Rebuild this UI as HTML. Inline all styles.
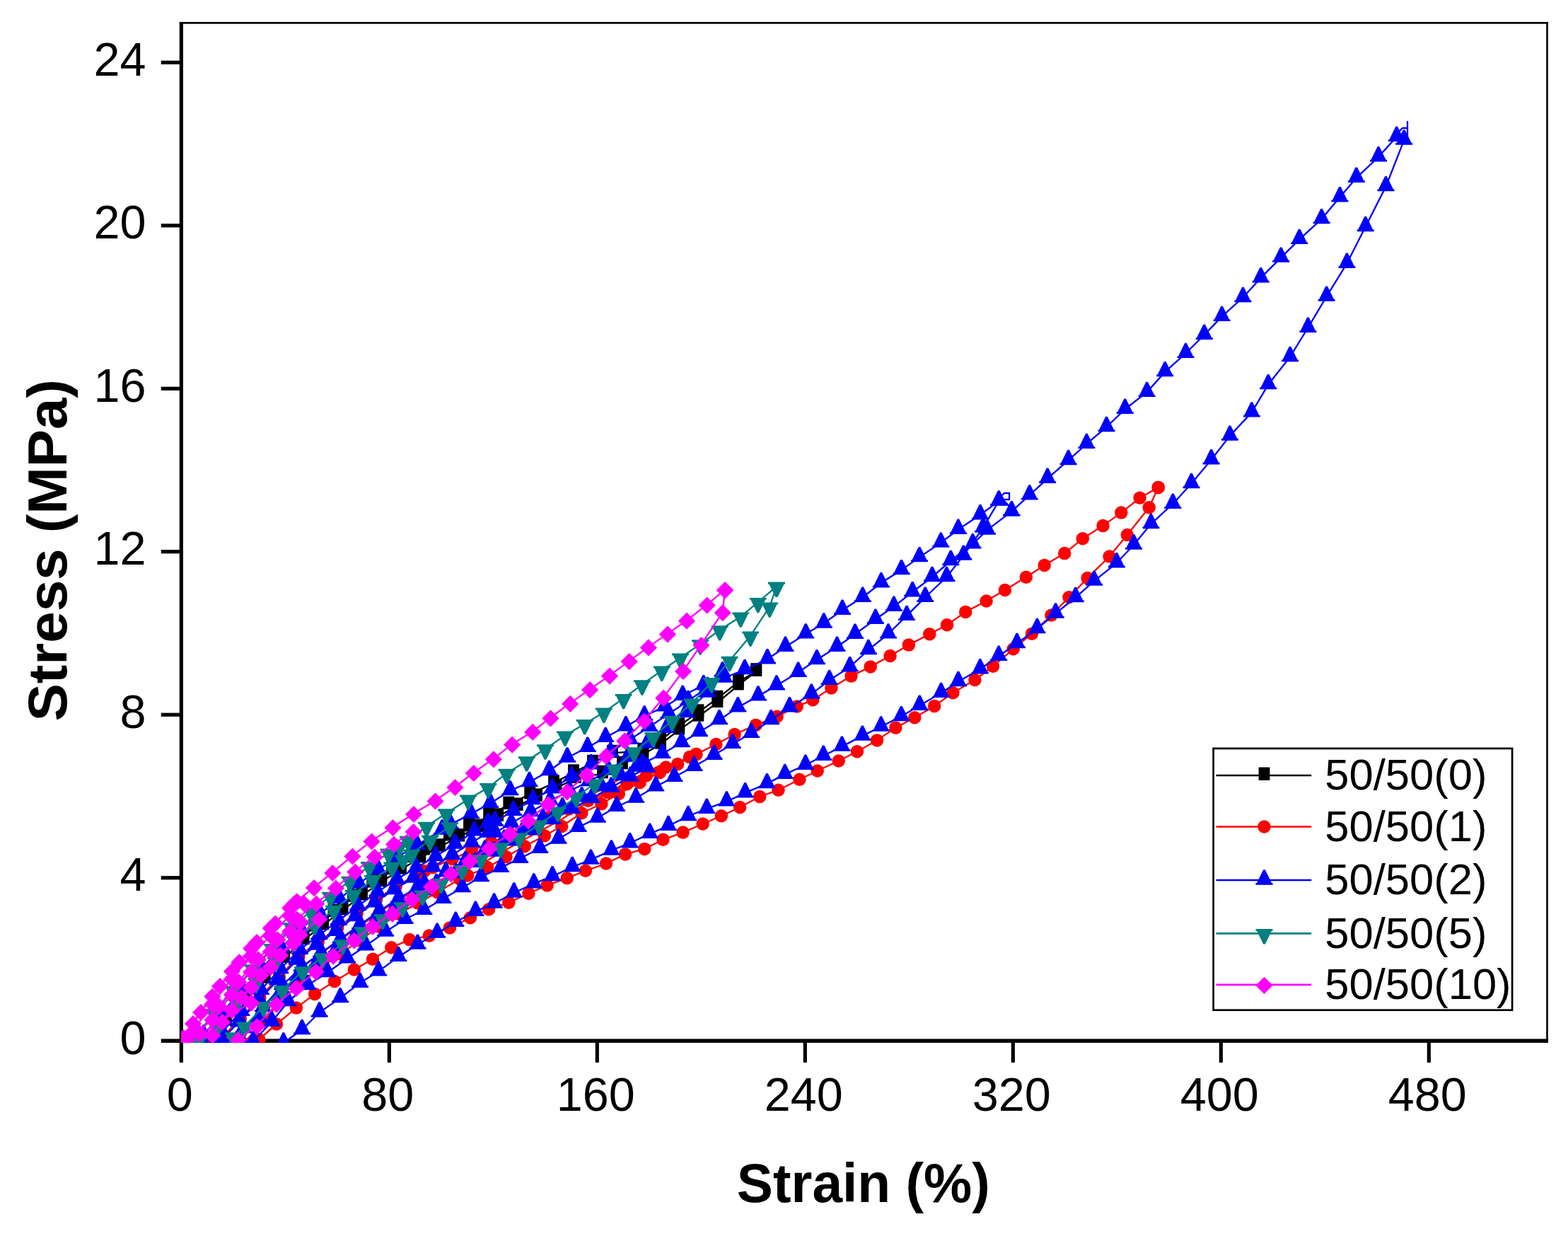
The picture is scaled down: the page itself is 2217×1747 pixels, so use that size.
<!DOCTYPE html>
<html lang="en"><head><meta charset="utf-8"><title>Stress-Strain cyclic curves</title>
<style>html,body{margin:0;padding:0;background:#fff}body{width:2217px;height:1747px;overflow:hidden}svg{display:block}text{font-family:"Liberation Sans",Arial,Helvetica,sans-serif;fill:#000}.tk{font-size:66.5px}.lg{font-size:61.5px}.ti{font-size:78.5px;font-weight:bold}</style></head><body>
<svg width="2217" height="1747" viewBox="0 0 2217 1747">
<rect width="2217" height="1747" fill="#fff"/>
<defs>
<clipPath id="cp"><rect x="256.2" y="33.7" width="1930" height="1440.3"/></clipPath>
<marker id="mk" markerUnits="userSpaceOnUse" markerWidth="30" markerHeight="30" refX="15" refY="17.3" overflow="visible"><rect x="7.1" y="5.8" width="15.8" height="18.4" fill="#000"/></marker>
<marker id="mr" markerUnits="userSpaceOnUse" markerWidth="30" markerHeight="30" refX="15" refY="15" overflow="visible"><circle cx="15" cy="15" r="9.25" fill="#f00"/></marker>
<marker id="mb" markerUnits="userSpaceOnUse" markerWidth="30" markerHeight="30" refX="15" refY="19" overflow="visible"><path d="M13.7 4.3h2.6L25.5 23H27v2.7H3V23h1.5Z" fill="#00f"/></marker>
<marker id="mt" markerUnits="userSpaceOnUse" markerWidth="30" markerHeight="30" refX="15" refY="10.5" overflow="visible"><path d="M13.7 25.7h2.6L25.5 7H27V4.3H3V7h1.5Z" fill="#008080"/></marker>
<marker id="mm" markerUnits="userSpaceOnUse" markerWidth="30" markerHeight="30" refX="15" refY="14" overflow="visible"><path d="M15 2.9L27.1 15L15 27.1L2.9 15Z" fill="#f0f"/></marker>
</defs>
<g fill="#000">
<rect x="253.75" y="31.05" width="5.15" height="1470.8"/>
<rect x="227.75" y="1468.4" width="1961.05" height="5.5"/>
<rect x="253.75" y="31.05" width="1935.05" height="2.65"/>
<rect x="2186.2" y="31.05" width="2.6" height="1442.8"/>
<rect x="227.75" y="1238.12" width="27" height="5.2"/>
<rect x="227.75" y="1007.64" width="27" height="5.2"/>
<rect x="227.75" y="777.16" width="27" height="5.2"/>
<rect x="227.75" y="546.68" width="27" height="5.2"/>
<rect x="227.75" y="316.20" width="27" height="5.2"/>
<rect x="227.75" y="85.72" width="27" height="5.2"/>
<rect x="547.75" y="1470" width="5.15" height="31.85"/>
<rect x="841.75" y="1470" width="5.15" height="31.85"/>
<rect x="1135.75" y="1470" width="5.15" height="31.85"/>
<rect x="1429.75" y="1470" width="5.15" height="31.85"/>
<rect x="1723.75" y="1470" width="5.15" height="31.85"/>
<rect x="2017.75" y="1470" width="5.15" height="31.85"/>
</g>
<g clip-path="url(#cp)" fill="none" stroke-width="2.35" stroke-linejoin="round">
<g transform="translate(0 2.3)" stroke="#000" marker-start="url(#mk)" marker-mid="url(#mk)" marker-end="url(#mk)">
<polyline points="256.3,1477.2 279.3,1477.2 306.8,1448.0 334.2,1417.5 361.6,1387.1 389.1,1358.4 416.5,1329.1 444.0,1307.5 471.4,1287.0 498.9,1265.6 526.3,1245.3 553.8,1227.0 581.2,1209.9 600.0,1199.3 608.7,1194.3 634.9,1179.3 663.0,1166.2 691.1,1151.2 719.3,1134.8 749.2,1120.3 783.0,1104.4 811.0,1089.5 838.0,1076.0 866.0,1062.0 909.4,1059.0 934.1,1044.0 960.3,1023.5 987.4,1004.5 1014.4,985.0 1043.9,961.5 1069.3,946.6"/>
<polyline points="1069.3,946.6 1043.9,966.2 1014.4,990.8 987.4,1010.5 960.3,1029.3 934.1,1049.5 909.4,1064.0 880.0,1078.0 852.0,1091.0 814.0,1097.8 786.6,1111.4 759.1,1123.6 731.7,1136.7 704.2,1151.5 676.8,1166.7 649.3,1180.3 621.9,1194.5 594.4,1210.1 567.0,1226.4 539.5,1244.0 512.0,1263.3 484.6,1284.1 457.1,1305.0 429.7,1326.0 402.2,1351.6 374.8,1380.5 347.3,1410.0 319.9,1440.4 292.4,1469.0 265.0,1477.2"/>
</g>
<g transform="translate(0 0)" stroke="#f00" marker-start="url(#mr)" marker-mid="url(#mr)" marker-end="url(#mr)">
<polyline points="280.0,1477.2 312.4,1467.8 339.9,1439.7 367.3,1409.8 394.8,1380.0 422.2,1352.3 449.7,1331.6 477.1,1311.6 504.6,1291.2 532.0,1271.6 559.5,1253.3 590.0,1235.4 600.0,1231.2 612.0,1226.0 639.5,1214.2 666.9,1202.4 694.4,1190.6 721.8,1178.8 749.3,1167.1 776.7,1155.3 804.2,1143.5 831.6,1131.7 859.1,1119.9 886.5,1108.1 914.0,1096.3 941.4,1084.5 975.0,1070.1 984.3,1066.1 1012.4,1052.0 1038.6,1038.0 1068.6,1024.9 1098.6,1012.7 1126.7,998.6 1149.2,989.3 1175.4,972.4 1203.5,955.6 1230.7,942.4 1258.6,927.0 1284.8,911.6 1314.3,896.3 1339.0,883.2 1365.2,864.9 1394.6,849.5 1420.9,834.0 1450.8,815.8 1476.7,798.9 1505.2,782.1 1530.8,761.3 1559.5,743.1 1585.3,724.6 1611.5,703.8 1637.7,688.9"/>
<polyline points="330.0,1477.2 344.0,1474.7 371.4,1444.7 398.9,1413.2 426.3,1387.0 453.8,1367.5 481.2,1348.4 508.7,1329.1 536.1,1309.8 563.6,1291.6 591.1,1276.6 618.5,1261.2 650.0,1242.5 661.2,1237.4 689.3,1226.1 715.5,1211.1 741.7,1196.2 769.8,1181.2 794.2,1168.0 822.3,1149.3 850.4,1136.2 874.8,1122.0 904.7,1106.0 932.8,1092.0 958.1,1080.0 984.3,1066.1"/>
<polyline points="1637.7,688.9 1624.7,717.2 1593.8,756.0 1568.5,786.6 1537.6,817.1 1511.4,844.3 1486.4,869.6 1458.9,895.8 1432.7,917.3 1404.0,941.7 1378.3,961.0 1347.4,979.2 1321.2,997.9 1293.2,1014.2 1266.3,1028.6 1240.0,1046.4 1211.9,1062.3 1185.7,1075.5 1155.7,1089.5 1130.4,1101.7 1100.5,1116.7 1074.2,1126.0 1046.1,1141.0 1019.9,1153.2 993.7,1164.5 965.6,1176.6 937.5,1186.8 911.3,1199.9 884.1,1207.4 857.0,1220.5 827.9,1230.8 801.7,1241.1 773.6,1251.4 747.4,1262.7 719.3,1275.8 691.1,1285.2 664.9,1297.3 635.9,1311.4 606.8,1322.6 579.1,1328.1 553.3,1339.3 527.0,1355.7 500.8,1370.5 473.0,1386.9 445.1,1404.9 418.9,1424.6 391.0,1447.5 366.4,1469.0"/>
</g>
<g stroke="#f00">
<polyline points="371.4,1434.7 398.9,1403.2 426.3,1377.0 453.8,1357.5 481.2,1338.4 508.7,1319.1 536.1,1299.8 563.6,1281.6 591.1,1266.6 618.5,1251.2 650.0,1232.5 661.2,1227.4 689.3,1216.1 715.5,1201.1 741.7,1186.2 769.8,1171.2 794.2,1158.0 822.3,1139.3 850.4,1126.2 874.8,1112.0 904.7,1096.0 932.8,1082.0"/>
<polyline points="426.3,1367.0 453.8,1347.5 481.2,1328.4 508.7,1309.1 536.1,1289.8 563.6,1271.6 591.1,1256.6 618.5,1241.2 650.0,1222.5 661.2,1217.4 689.3,1206.1 715.5,1191.1 741.7,1176.2 769.8,1161.2 794.2,1148.0 822.3,1129.3 850.4,1116.2 874.8,1102.0"/>
</g>
<g transform="translate(0 4)" stroke="#00f" marker-start="url(#mb)" marker-mid="url(#mb)" marker-end="url(#mb)">
<polyline points="256.3,1477.2 287.8,1459.0 315.2,1425.7 342.6,1394.8 370.1,1364.6 397.5,1335.6 425.0,1308.9 452.4,1287.7 479.9,1266.4 507.3,1245.0 534.8,1225.2 562.2,1207.2 589.7,1190.5 625.0,1169.0 637.0,1161.4 666.0,1146.4 693.2,1131.4 721.3,1113.6 748.5,1101.5 776.6,1085.5 802.1,1067.0 830.8,1052.3 856.2,1038.4 884.9,1022.8 911.1,1008.0 939.8,994.9 965.2,979.3 994.8,964.6 1024.3,954.0 1053.0,942.5 1085.0,927.8 1110.5,910.2 1139.3,891.9 1164.8,877.0 1191.0,858.2 1219.7,840.2 1245.9,819.7 1274.6,801.6 1300.0,783.6 1330.3,763.1 1354.9,744.3 1386.0,723.8 1412.3,704.1"/>
<polyline points="290.0,1477.2 314.0,1454.2 341.4,1425.2 368.9,1395.2 396.3,1365.5 423.8,1338.4 451.2,1317.6 478.7,1297.2 506.1,1276.5 533.6,1256.8 561.0,1238.7 588.5,1222.4 616.0,1206.6 643.4,1189.1 670.9,1170.9 690.0,1159.4 700.0,1157.0 726.0,1142.2 753.5,1126.5 780.9,1110.8 808.4,1093.8 835.8,1076.8 863.3,1059.3 890.7,1041.3 918.2,1023.2 945.6,1004.9 973.1,986.5 1000.5,967.5 1021.5,946.0"/>
<polyline points="1000.0,975.0 970.1,1003.2 942.6,1025.4 915.2,1046.8 887.7,1066.0 860.3,1084.9 832.8,1100.5 805.4,1114.0 777.9,1127.6 750.5,1143.6 723.0,1159.6 700.0,1173.0 690.0,1173.0 666.9,1186.8 639.4,1204.5 612.0,1221.6 584.5,1237.0 557.0,1253.5 529.6,1271.9 502.1,1291.6 474.7,1312.2 447.2,1332.0 419.8,1353.1 392.3,1381.6 364.9,1411.1 337.4,1440.9 310.0,1469.2 300.0,1477.2"/>
<polyline points="310.0,1477.2 317.0,1476.5 344.4,1449.5 371.9,1419.4 399.3,1388.6 426.8,1362.5 454.2,1342.6 481.7,1322.8 509.1,1302.9 536.6,1283.5 564.0,1265.4 590.0,1250.7 600.0,1245.2 630.5,1228.5 657.9,1213.4 685.4,1198.3 712.8,1183.1 740.3,1168.0 767.7,1152.9 795.2,1137.8 822.6,1122.7 850.1,1107.6 877.5,1092.5 900.0,1080.1 908.4,1075.5 936.5,1061.4 963.7,1045.5 989.0,1030.5 1017.1,1013.6 1043.3,995.8 1072.0,979.9 1098.0,964.9 1128.6,946.2 1154.9,928.6 1183.5,910.2 1209.0,892.2 1237.9,871.3 1263.9,853.3 1290.2,832.8 1318.0,811.5 1344.3,788.5 1375.4,764.8 1395.9,745.1 1430.3,718.9"/>
<polyline points="320.0,1477.2 339.0,1463.8 366.4,1434.3 393.9,1404.1 421.3,1375.9 448.8,1355.3 476.2,1336.1 503.7,1316.3 531.1,1296.9 558.6,1278.5 590.0,1260.4 600.0,1254.9 617.0,1245.5 644.5,1230.4 671.9,1215.2 699.4,1200.0 726.8,1184.9 754.3,1169.7 781.7,1154.5 809.2,1139.4 836.6,1124.2 864.1,1109.0 891.5,1093.9 915.0,1080.9"/>
<polyline points="1412.3,704.1 1390.0,742.0 1362.3,781.1 1338.5,811.5 1308.2,840.2 1282.0,866.4 1256.0,891.9 1227.9,914.5 1201.6,938.7 1172.6,957.4 1147.3,977.1 1116.4,995.8 1090.2,1013.6 1062.1,1032.4 1035.8,1047.4 1009.6,1063.3 981.5,1079.2 953.4,1094.2 927.2,1107.7 899.1,1124.0 871.9,1136.2 844.8,1152.1 817.6,1165.2 789.5,1182.1 763.3,1195.2 735.2,1209.3 708.0,1222.4 679.9,1235.5 653.7,1250.5 626.5,1266.4 599.3,1282.3 572.6,1295.3 545.1,1313.1 517.2,1332.8 491.0,1350.8 463.1,1370.5 435.2,1388.5 407.4,1411.5 384.5,1440.0 358.0,1468.0"/>
<polyline points="1430.3,718.9 1455.7,695.9 1481.1,672.3 1510.6,646.5 1536.4,623.4 1564.5,599.5 1590.7,574.3 1621.6,550.4 1647.2,521.6 1676.5,495.4 1702.7,469.3 1727.6,443.4 1757.4,416.5 1782.7,388.7 1811.2,360.1 1837.2,334.4 1868.6,305.6 1894.4,274.7 1917.8,247.3 1949.0,217.8 1974.7,189.4"/>
<polyline points="1985.2,194.1 1959.5,259.6 1930.7,316.5 1904.4,368.3 1875.6,415.1 1849.4,459.2 1824.0,500.5 1793.2,539.6 1769.8,578.9 1738.9,612.1 1712.6,645.8 1684.5,679.5 1658.3,708.2 1627.4,736.6 1603.1,766.0 1578.8,791.8 1547.0,817.1 1520.7,840.5 1492.6,863.0 1466.4,884.5 1437.9,905.5 1412.1,923.3 1385.8,941.7 1354.9,959.5 1330.6,975.4 1300.2,993.2 1274.3,1008.6 1245.7,1023.0 1219.4,1036.1 1190.4,1051.1 1164.2,1064.2 1138.9,1077.3 1109.8,1090.4 1084.5,1103.6 1053.6,1116.7 1027.4,1128.9 999.3,1139.2 973.1,1149.5 945.0,1163.4 918.8,1174.3 890.7,1187.7 864.4,1198.0 835.4,1211.1 809.2,1221.5 781.1,1234.6 754.8,1244.9 726.7,1258.0 698.6,1273.0 672.4,1284.2 644.3,1299.2 618.1,1315.1 590.5,1331.1 563.4,1348.4 535.2,1368.9 509.0,1385.2 481.1,1406.6 451.6,1427.0 427.0,1451.5 400.8,1470.0"/>
</g>
<g stroke="#00f">
<polyline points="1974.7,189.4 1983.0,181.0 1990.0,181.0 1990.0,172.0 1990.0,200.0 1985.2,194.1"/>
<polyline points="1412.3,704.1 1420.0,697.0 1427.0,697.0 1427.0,706.0 1418.0,706.0 1430.3,718.9"/>
</g>
<g transform="translate(0 -4.5)" stroke="#008080" marker-start="url(#mt)" marker-mid="url(#mt)" marker-end="url(#mt)">
<polyline points="256.3,1477.2 274.9,1471.2 302.4,1436.5 329.8,1404.2 357.3,1374.0 384.7,1344.6 412.2,1315.0 439.6,1292.4 467.1,1271.4 494.5,1249.5 522.0,1228.7 549.4,1210.2 565.0,1200.1 576.9,1192.4 603.1,1172.5 631.0,1154.0 662.0,1134.3 690.3,1117.8 716.5,1097.4 744.7,1079.9 771.0,1063.0 798.9,1044.1 826.7,1027.7 853.8,1011.3 881.6,991.6 907.9,972.0 935.7,952.3 962.0,934.3 990.0,915.0 1017.7,894.9 1047.2,876.1 1071.8,855.6 1098.0,833.4"/>
<polyline points="261.3,1477.2 279.9,1477.2 307.4,1455.5 334.8,1423.2 362.3,1393.0 389.7,1363.6 417.2,1334.0 444.6,1311.4 472.1,1290.4 499.5,1268.5 527.0,1247.7 554.4,1229.2 570.0,1219.1 581.9,1211.4 608.1,1191.5 636.0,1173.0"/>
<polyline points="1098.0,833.4 1088.2,862.1 1061.1,903.1 1031.6,938.4 1006.2,968.7 978.4,998.2 950.5,1022.8 923.4,1045.7 896.4,1067.0 869.1,1091.2 841.0,1111.9 814.8,1130.6 788.6,1151.2 762.3,1169.9 734.2,1188.0 708.0,1202.0 679.9,1218.6 653.7,1233.6 623.7,1252.4 597.5,1269.2 569.0,1286.0 541.0,1303.0 513.0,1321.0 484.5,1339.0 456.0,1358.0 428.0,1377.0 399.4,1403.7 372.7,1426.7 346.0,1455.3 330.0,1470.0"/>
</g>
<g transform="translate(0 -1)" stroke="#f0f" marker-start="url(#mm)" marker-mid="url(#mm)" marker-end="url(#mm)">
<polyline points="256.3,1471.2 284.0,1431.0 311.0,1394.0 338.5,1360.0 363.0,1332.0 389.3,1305.5 415.9,1277.6 444.0,1255.1 470.3,1234.0 498.4,1210.5 525.5,1189.5 555.5,1170.0 585.0,1151.0 615.5,1132.5 643.5,1113.0 669.8,1093.0 697.9,1073.3 724.1,1052.7 753.2,1034.9 778.5,1015.3 806.2,994.9 834.1,975.2 862.0,955.6 889.8,935.1 916.9,915.4 943.9,896.6 971.0,877.7 999.7,855.6 1025.1,834.3"/>
<polyline points="1025.1,834.3 1021.8,866.2 991.5,912.1 966.1,949.0 938.2,986.7 911.1,1019.5 883.3,1047.4 857.0,1069.0 829.8,1095.9 801.7,1119.3 775.2,1137.0 747.0,1160.5 720.8,1179.3 691.7,1199.4 664.1,1217.6 637.8,1235.5 610.2,1253.3 582.5,1271.5 554.9,1291.8 527.0,1309.8 500.8,1329.5 471.3,1351.6 446.7,1373.8 419.0,1397.0 391.0,1420.0 363.3,1451.0 336.7,1470.0"/>
<polyline points="282.6,1460.8 310.1,1422.7 337.5,1388.1 365.0,1356.3 392.4,1328.4 419.9,1299.6 447.3,1277.6 474.8,1255.6 502.2,1232.6 529.7,1211.4 557.1,1193.5 584.6,1175.8"/>
<polyline points="314.1,1444.7 341.5,1410.1 369.0,1378.3 396.4,1350.4 423.9,1321.6 451.3,1299.6"/>
<polyline points="259.3,1477.2 273.0,1458.0 300.4,1419.5 327.9,1384.1 355.3,1351.7 382.8,1323.0 410.2,1294.5 430.0,1277.3"/>
<polyline points="259.3,1477.2 300.4,1441.5 327.9,1406.1 355.3,1373.7 382.8,1345.0 410.2,1316.5 425.0,1303.3"/>
<polyline points="259.3,1477.2 300.4,1463.5 327.9,1428.1 355.3,1395.7 382.8,1367.0 415.0,1333.5"/>
<polyline points="259.3,1477.2 355.3,1417.7"/>
<polyline points="259.3,1466.8 273.0,1447.0 300.4,1408.5 327.9,1373.1 355.3,1340.7 382.8,1312.0 410.2,1283.5 420.0,1274.3"/>
</g>
</g>
<g class="tk" text-anchor="middle">
<text x="254.3" y="1569.8">0</text>
<text x="548.3" y="1569.8">80</text>
<text x="842.3" y="1569.8">160</text>
<text x="1136.3" y="1569.8">240</text>
<text x="1430.3" y="1569.8">320</text>
<text x="1724.3" y="1569.8">400</text>
<text x="2018.3" y="1569.8">480</text>
</g>
<g class="tk" text-anchor="end">
<text x="206.5" y="1489.7">0</text>
<text x="206.5" y="1259.2">4</text>
<text x="206.5" y="1028.7">8</text>
<text x="206.5" y="798.3">12</text>
<text x="206.5" y="567.8">16</text>
<text x="206.5" y="337.3">20</text>
<text x="206.5" y="106.8">24</text>
</g>
<text class="ti" transform="translate(1220.8 1698.8) scale(0.977 1)" text-anchor="middle">Strain (%)</text>
<text class="ti" transform="translate(94.4 777.8) rotate(-90) scale(1.017 1)" text-anchor="middle">Stress (MPa)</text>
<rect x="1715.6" y="1057.9" width="422.5" height="369.8" fill="#fff" stroke="#000" stroke-width="2.7"/>
<g fill="none" stroke-width="2.7">
<polyline stroke="#000" marker-mid="url(#mk)" points="1719.5,1096.0 1787.5,1096.0 1854.2,1096.0"/>
<polyline stroke="#f00" marker-mid="url(#mr)" points="1719.5,1168.5 1787.5,1168.5 1854.2,1168.5"/>
<polyline stroke="#00f" marker-mid="url(#mb)" points="1719.5,1244.0 1787.5,1244.0 1854.2,1244.0"/>
<polyline stroke="#008080" marker-mid="url(#mt)" points="1719.5,1319.3 1787.5,1319.3 1854.2,1319.3"/>
<polyline stroke="#f0f" marker-mid="url(#mm)" points="1719.5,1391.8 1787.5,1391.8 1854.2,1391.8"/>
</g>
<g class="lg">
<text x="1873.3" y="1116.3">50/50(0)</text>
<text x="1873.3" y="1188.8">50/50(1)</text>
<text x="1873.3" y="1264.3">50/50(2)</text>
<text x="1873.3" y="1339.6">50/50(5)</text>
<text x="1873.3" y="1412.1">50/50(10)</text>
</g>
</svg></body></html>
